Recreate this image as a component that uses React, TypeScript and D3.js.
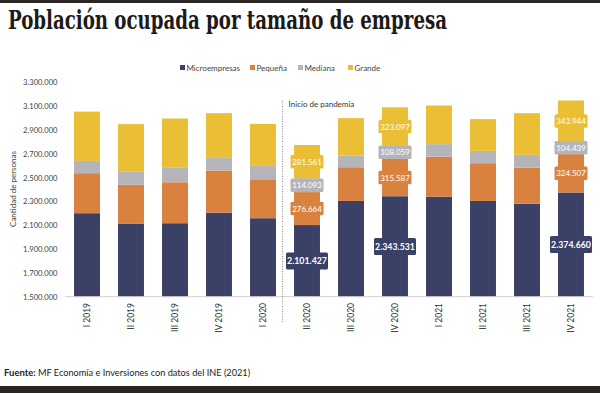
import React from 'react';
import * as d3 from 'd3';

const categories = ['I 2019', 'II 2019', 'III 2019', 'IV 2019', 'I 2020', 'II 2020', 'III 2020', 'IV 2020', 'I 2021', 'II 2021', 'III 2021', 'IV 2021'];
const micro = [2201000, 2111000, 2117000, 2206000, 2159000, 2101427, 2304000, 2343531, 2340000, 2304000, 2281000, 2374660];
const pequena = [336000, 328000, 344000, 353000, 327000, 276664, 283000, 315587, 336000, 317000, 303000, 324507];
const mediana = [103000, 109000, 126000, 112000, 112000, 114093, 98000, 108059, 105000, 103000, 107000, 104439];
const grande = [414000, 401000, 409000, 370000, 353000, 281561, 314000, 323097, 324000, 267000, 350000, 343944];
const seriesNames = ['Microempresas', 'Pequeña', 'Mediana', 'Grande'];
const colors = ['#3b4067', '#d9823f', '#b5b5b9', '#ebbf35'];
const labelled = ['II 2020', 'IV 2020', 'IV 2021'];
const yTicks = [1500000, 1700000, 1900000, 2100000, 2300000, 2500000, 2700000, 2900000, 3100000, 3300000];

const locale = d3.formatLocale({ decimal: ',', thousands: '.', grouping: [3], currency: ['', ''] });
const fmt = locale.format(',d');
const font = 'Lato, "Open Sans", sans-serif';

export default function App() {
  const rows = categories.map((c, i) => ({ cat: c, Microempresas: micro[i], 'Pequeña': pequena[i], Mediana: mediana[i], Grande: grande[i] }));
  const stacked = d3.stack<any>().keys(seriesNames)(rows);

  const x = d3.scaleBand().domain(categories).range([65, 593]).paddingInner(0.41).paddingOuter(0.205);
  const y = d3.scaleLinear().domain([1500000, 3300000]).range([296.7, 82.3]);
  const base = y.domain()[0];
  const bw = x.bandwidth();
  const pandemicX = (x('II 2020') || 0) - x.step() * 0.26;

  const legendX = [180, 250, 298, 348];

  return (
    <svg width={600} height={393} style={{ position: 'absolute', left: 0, top: 0, background: '#fff' }}>
      <rect x={0} y={0} width={600} height={3} fill="#2b2621" />
      <text x={8} y={29} fontFamily='"DejaVu Serif Condensed", "DejaVu Serif", serif' fontStretch="condensed" fontWeight="bold" fontSize={26} fill="#1e1a17" textLength={439} lengthAdjust="spacingAndGlyphs">
        Población ocupada por tamaño de empresa
      </text>

      {/* legend */}
      {seriesNames.map((s, i) => (
        <g key={s} transform={`translate(${legendX[i]},67.5)`}>
          <rect x={0} y={-2.5} width={5} height={5} fill={colors[i]} />
          <text x={6.5} y={3} fontFamily={font} fontSize={8} fill="#444">{s}</text>
        </g>
      ))}

      {/* y axis */}
      {yTicks.map(t => (
        <text key={t} x={57.5} y={y(t) + 3} textAnchor="end" fontFamily={font} fontSize={7.6} fill="#444">{fmt(t)}</text>
      ))}
      <text transform="translate(16,189) rotate(-90)" textAnchor="middle" fontFamily={font} fontSize={8} fill="#444">Cantidad de personas</text>

      {/* bars */}
      {stacked.map((layer, si) => (
        <g key={layer.key}>
          {layer.map((d, i) => (
            <rect key={i} x={x(categories[i])} y={y(d[1])} width={bw} height={y(Math.max(d[0], base)) - y(d[1])} fill={colors[si]} />
          ))}
        </g>
      ))}

      <line x1={65} x2={593} y1={y(base)} y2={y(base)} stroke="#d0d0d0" strokeWidth={1} />

      {/* pandemic marker */}
      <line x1={pandemicX} x2={pandemicX} y1={101} y2={323} stroke="#888" strokeWidth={1} strokeDasharray="1,1.5" />
      <text x={pandemicX + 6} y={107} fontFamily={font} fontSize={8} fill="#333">Inicio de pandemia</text>

      {/* value labels */}
      {stacked.map((layer, si) => (
        <g key={layer.key + 'l'}>
          {layer.map((d, i) => {
            if (!labelled.includes(categories[i])) return null;
            const cx = (x(categories[i]) || 0) + bw / 2;
            const cy = (y(Math.max(d[0], base)) + y(d[1])) / 2;
            const label = fmt(d[1] - d[0]);
            const bold = si === 0;
            const w = bold ? 42 : 33;
            const h = bold ? 17 : 13.5;
            return (
              <g key={i}>
                <rect x={cx - w / 2} y={cy - h / 2} width={w} height={h} fill={colors[si]} rx={1.5} />
                <text x={cx} y={cy + 3.1} textAnchor="middle" fontFamily={font} fontSize={bold ? 8.8 : 8} fontWeight={bold ? 'bold' : 'normal'} fill="#fff">{label}</text>
              </g>
            );
          })}
        </g>
      ))}

      {/* x axis labels */}
      {categories.map(c => (
        <text key={c} transform={`translate(${(x(c) || 0) + bw / 2 + 3},303) rotate(-90)`} textAnchor="end" fontFamily={font} fontSize={8.5} fill="#333">{c}</text>
      ))}

      {/* source */}
      <text x={4} y={376} fontFamily={font} fontSize={9.5} fontWeight="bold" fill="#222">Fuente:</text>
      <text x={38} y={376} fontFamily={font} fontSize={9.2} fill="#222">MF Economía e Inversiones con datos del INE (2021)</text>
      <rect x={0} y={386} width={600} height={7} fill="#2b2621" />
    </svg>
  );
}
